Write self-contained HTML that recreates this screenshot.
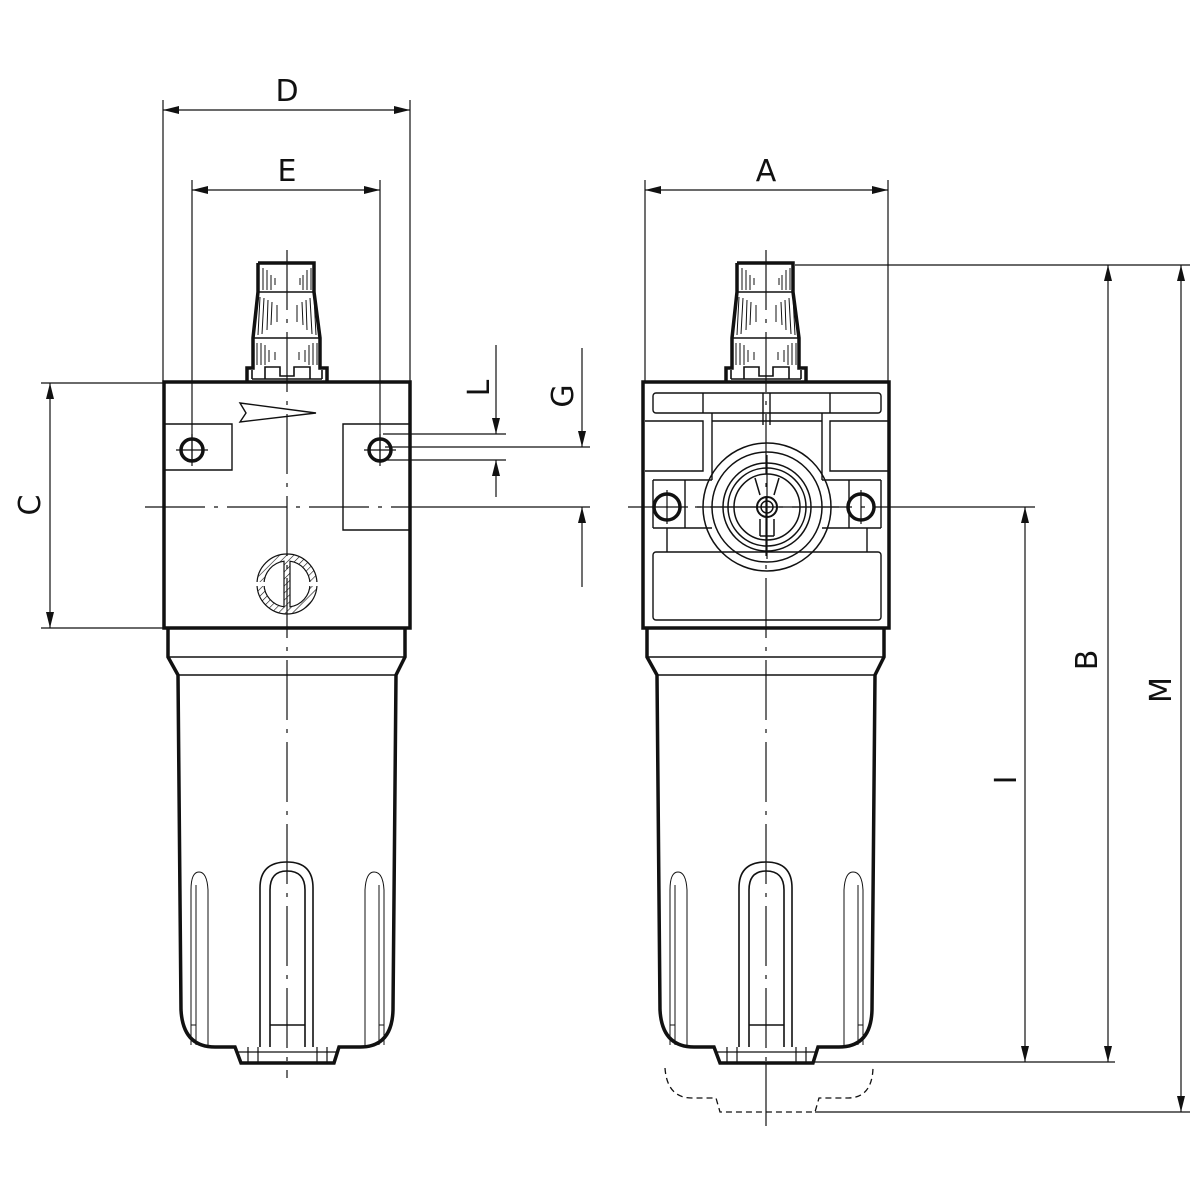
<!DOCTYPE html>
<html><head><meta charset="utf-8"><style>
html,body{margin:0;padding:0;background:#fff;}
svg{display:block;}
text{font-family:"DejaVu Sans","Liberation Sans",sans-serif;font-size:30px;fill:#111;}
</style></head><body>
<svg width="1200" height="1200" viewBox="0 0 1200 1200" xmlns="http://www.w3.org/2000/svg">
<defs>
<pattern id="h" width="5" height="5" patternUnits="userSpaceOnUse" patternTransform="rotate(45)">
<line x1="0" y1="0" x2="0" y2="5" stroke="#111" stroke-width="1.2"/></pattern>
<g id="cap">
<path d="M258,263 L314,263 L314,292 L320,338 L320,368 L327,368 L327,382 M258,263 L258,292 L253,338 L253,368 L247,368 L247,382" fill="none" stroke="#111" stroke-width="3.5"/>
<path d="M258,292 L314,292 M253,338 L320,338 M252,379 L322,379" stroke="#111" stroke-width="1.6" fill="none"/>
<path d="M252,379 L252,370 M322,379 L322,370 M265,379 L265,367 L280,367 L280,376 L294,376 L294,367 L310,367 L310,379" stroke="#111" stroke-width="1.6" fill="none"/>
<g stroke="#111" stroke-width="1">
<path d="M263,268V290M267,270V290M271,275V290M275,278V285M300,278V285M303,275V290M307,270V290M311,268V290"/>
<path d="M260,297L258,335M264,298L262,334M268,300L267,330M272,302L271,325M277,305L277,322M297,305L297,322M302,302L303,325M306,300L307,330M310,298L312,334M314,297L316,335"/>
<path d="M257,343V365M261,343V365M265,345V365M269,350V362M275,352V360M299,352V360M305,350V362M309,345V365M313,343V365M317,343V365"/>
</g>
</g>
<g id="bowl">
<path d="M168,628 L168,657 L178,675 L181,1010 Q183,1047 215,1047 L235,1047 L241,1063 L334,1063 L339,1047 L360,1047 Q392,1047 393,1010 L396,675 L405,657 L405,628" fill="none" stroke="#111" stroke-width="3.5"/>
<path d="M168,657 L405,657 M178,675 L396,675" stroke="#111" stroke-width="1.6"/>
<path d="M237,1052 L337,1052 M248,1047V1062M258,1047V1062M317,1047V1062M327,1047V1062" stroke="#111" stroke-width="1.2"/>
<g fill="none" stroke="#111" stroke-width="1.6">
<path d="M260,1047 V888 Q260,862 287,862 Q313,862 313,888 V1047"/>
<path d="M270,1047 V890 Q270,871 287,871 Q305,871 305,890 V1047"/>
<path d="M270,1025 H305"/>
</g>
<g fill="none" stroke="#111" stroke-width="1">
<path d="M191,1045 V890 Q191,872 199,872 Q207,872 208,890 V1045 M196,1045V885"/>
<path d="M365,1045 V890 Q366,872 374,872 Q383,872 384,890 V1045 M379,1045V885"/>
<path d="M191,1025H196 M379,1025H384"/>
</g>
</g>
<marker id="a" viewBox="0 0 16 8" refX="16" refY="4" markerWidth="17" markerHeight="8" orient="auto-start-reverse" markerUnits="userSpaceOnUse">
<path d="M0,0 L16,4 L0,8 Z" fill="#111"/></marker>
</defs>

<g stroke="#111" stroke-width="1.2" fill="none">
<path d="M287,250V1078 M766,250V1062 M145,507H437 M628,507H905" stroke-dasharray="60 9 4 9"/>
<path d="M766,1062V1126"/>
<line x1="163" y1="110" x2="410" y2="110" marker-start="url(#a)" marker-end="url(#a)"/>
<line x1="192" y1="190" x2="380" y2="190" marker-start="url(#a)" marker-end="url(#a)"/>
<path d="M163,100V382 M410,100V382 M192,180V462 M380,180V462"/>
<line x1="645" y1="190" x2="888" y2="190" marker-start="url(#a)" marker-end="url(#a)"/>
<path d="M645,180V382 M888,180V382"/>
<line x1="50" y1="383" x2="50" y2="628" marker-start="url(#a)" marker-end="url(#a)"/>
<path d="M41,383H163 M41,628H163"/>
<line x1="496" y1="345" x2="496" y2="434" marker-end="url(#a)"/>
<line x1="496" y1="497" x2="496" y2="460" marker-end="url(#a)"/>
<path d="M383,434H506 M383,460H506 M385,447H590"/>
<line x1="582" y1="348" x2="582" y2="447" marker-end="url(#a)"/>
<line x1="582" y1="587" x2="582" y2="507" marker-end="url(#a)"/>
<path d="M437,507H590"/>
<path d="M795,265H1190 M815,1062H1115 M815,1112H1190 M905,507H1035"/>
<line x1="1108" y1="265" x2="1108" y2="1062" marker-start="url(#a)" marker-end="url(#a)"/>
<line x1="1181" y1="265" x2="1181" y2="1112" marker-start="url(#a)" marker-end="url(#a)"/>
<line x1="1025" y1="507" x2="1025" y2="1062" marker-start="url(#a)" marker-end="url(#a)"/>
</g>

<text x="287" y="101" text-anchor="middle">D</text>
<text x="287" y="181" text-anchor="middle">E</text>
<text x="766" y="181" text-anchor="middle">A</text>
<text transform="translate(40,505) rotate(-90)" text-anchor="middle">C</text>
<text transform="translate(489,388) rotate(-90)" text-anchor="middle">L</text>
<text transform="translate(573,396) rotate(-90)" text-anchor="middle">G</text>
<text transform="translate(1097,660) rotate(-90)" text-anchor="middle">B</text>
<text transform="translate(1171,690) rotate(-90)" text-anchor="middle">M</text>
<text transform="translate(1016,780) rotate(-90)" text-anchor="middle">I</text>

<use href="#cap"/>
<rect x="164" y="382" width="246" height="246" fill="none" stroke="#111" stroke-width="3.5"/>
<use href="#bowl"/>
<g fill="none" stroke="#111" stroke-width="1.4">
<path d="M165,424H232V470H165 M409,424H343V530H409"/>
<path d="M240,403 L316,413 L240,422 L246,413 Z"/>
</g>
<g fill="none" stroke="#111">
<circle cx="192" cy="450" r="11" stroke-width="3.5"/>
<circle cx="380" cy="450" r="11" stroke-width="3.5"/>
<path d="M176,450H208 M192,434V466 M364,450H396 M380,434V466" stroke-width="1.2"/>
</g>
<circle cx="287" cy="584" r="30" fill="url(#h)" stroke="#111" stroke-width="1.2"/>
<path d="M284,561.2 A23,23 0 0 0 284,606.8 Z M290,561.2 A23,23 0 0 1 290,606.8 Z" fill="#fff" stroke="#111" stroke-width="1.2"/>
<rect x="255" y="582" width="12" height="4" fill="#fff"/>
<rect x="307" y="582" width="12" height="4" fill="#fff"/>

<use href="#cap" transform="translate(479,0)"/>
<rect x="643" y="382" width="246" height="246" fill="none" stroke="#111" stroke-width="3.5"/>
<use href="#bowl" transform="translate(479,0)"/>
<g fill="none" stroke="#111" stroke-width="1.4">
<rect x="653" y="393" width="228" height="20" rx="3"/>
<rect x="653" y="552" width="228" height="68" rx="3"/>
<path d="M703,393V413 M830,393V413"/>
<path d="M645,421H703V471H645 M888,421H830V471H888"/>
<path d="M712,413V480 M822,413V480 M712,421H822"/>
<path d="M653,480H712 M653,480V528 M685,480V528 M653,528H667 M667,528V552 M667,528H712"/>
<path d="M881,480H822 M881,480V528 M849,480V528 M881,528H867 M867,528V552 M867,528H822"/>
<path d="M763,393V425 M770,393V425"/>
</g>
<g fill="none" stroke="#111" stroke-width="1.5">
<circle cx="767" cy="507" r="64"/>
<circle cx="767" cy="507" r="55"/>
<circle cx="767" cy="507" r="44"/>
<circle cx="767" cy="507" r="39"/>
<circle cx="767" cy="507" r="33"/>
<circle cx="767" cy="507" r="10" stroke-width="2"/>
<circle cx="767" cy="507" r="6"/>
<path d="M755,478 L760,495 M779,478 L774,495 M760,519 V536 M774,519 V536 M760,536H774"/>
<path d="M695,507H839 M767,455V559" stroke-width="1.2"/>
</g>
<g fill="none" stroke="#111">
<circle cx="667" cy="507" r="13" stroke-width="3.5"/>
<circle cx="861" cy="507" r="13" stroke-width="3.5"/>
<path d="M667,490V524 M861,490V524" stroke-width="1.2"/>
</g>
<path d="M665,1068 Q667,1098 692,1098 L716,1098 L720,1112 L815,1112 L819,1098 L848,1098 Q872,1098 873,1068" fill="none" stroke="#111" stroke-width="1.3" stroke-dasharray="6 4"/>
</svg>
</body></html>
